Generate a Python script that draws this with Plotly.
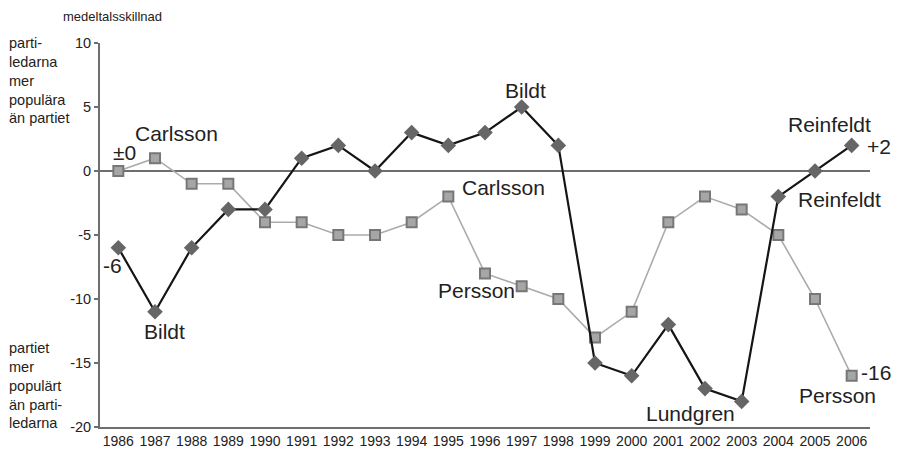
import plotly.graph_objects as go

years = list(range(1986, 2007))
# moderata partiledare (Bildt, Lundgren, Reinfeldt)
m_values = [-6, -11, -6, -3, -3, 1, 2, 0, 3, 2, 3, 5, 2, -15, -16, -12, -17, -18, -2, 0, 2]
# socialdemokratiska partiledare (Carlsson, Persson)
s_values = [0, 1, -1, -1, -4, -4, -5, -5, -4, -2, -8, -9, -10, -13, -11, -4, -2, -3, -5, -10, -16]
y_ticks = [-20, -15, -10, -5, 0, 5, 10]

FONT = "Liberation Sans, Arial, sans-serif"

fig = go.Figure()

fig.add_trace(go.Scatter(
    x=years, y=s_values, mode="lines+markers",
    line=dict(color="#ababab", width=1.6),
    marker=dict(symbol="square", size=10, color="#a6a6a6", line=dict(color="#777777", width=2)),
    showlegend=False,
))
fig.add_trace(go.Scatter(
    x=years, y=m_values, mode="lines+markers",
    line=dict(color="#151515", width=2.2),
    marker=dict(symbol="diamond", size=12, color="#666666", line=dict(width=0)),
    showlegend=False,
))

# (text, serie, index, xshift, yshift)
labels = [
    ("±0", s_values, 0, 6, 19),
    ("Carlsson", s_values, 1, 21, 25),
    ("-6", m_values, 0, -6, -18),
    ("Bildt", m_values, 1, 9, -20),
    ("Bildt", m_values, 11, 4, 17),
    ("Carlsson", s_values, 9, 55, 9),
    ("Persson", s_values, 10, -9, -17),
    ("Reinfeldt", m_values, 20, -22, 21),
    ("+2", m_values, 20, 27, -1),
    ("Reinfeldt", m_values, 19, 24, -28),
    ("Lundgren", m_values, 17, -51, -12),
    ("-16", s_values, 20, 24, 3),
    ("Persson", s_values, 20, -14, -20),
]
for text, serie, i, dx, dy in labels:
    fig.add_annotation(
        x=years[i], y=serie[i], text=text, showarrow=False,
        xshift=dx, yshift=dy, font=dict(family=FONT, size=21, color="#222"),
    )

fig.add_annotation(
    xref="paper", yref="paper", x=0.016, y=1.045, xanchor="center", yanchor="bottom",
    text="medeltalsskillnad", showarrow=False, font=dict(family=FONT, size=13, color="#222"),
)
fig.add_annotation(
    xref="paper", yref="paper", x=-0.121, y=1.025, xanchor="left", yanchor="top", align="left",
    text="parti-<br>ledarna<br>mer<br>populära<br>än partiet", showarrow=False,
    font=dict(family=FONT, size=14.5, color="#222"),
)
fig.add_annotation(
    xref="paper", yref="paper", x=-0.121, y=-0.015, xanchor="left", yanchor="bottom", align="left",
    text="partiet<br>mer<br>populärt<br>än parti-<br>ledarna", showarrow=False,
    font=dict(family=FONT, size=14.5, color="#222"),
)

fig.update_xaxes(
    range=[1985.5, 2006.5], tickvals=years, tickangle=0, showgrid=False, zeroline=False,
    showline=True, linecolor="#6e6e6e", linewidth=2, ticks="",
    tickfont=dict(family=FONT, size=14, color="#222"),
)
fig.update_yaxes(
    range=[-20, 10], tickvals=y_ticks, ticktext=[str(v) for v in y_ticks], showgrid=False,
    zeroline=True, zerolinecolor="#6e6e6e", zerolinewidth=2,
    showline=True, linecolor="#6e6e6e", linewidth=2, ticks="outside", ticklen=4,
    tickcolor="#6e6e6e", tickwidth=2,
    tickfont=dict(family=FONT, size=14.5, color="#222"),
)
# the page body has an 8px margin, so the margins are offset by it
fig.update_layout(
    width=899, height=453,
    plot_bgcolor="white", paper_bgcolor="white",
    margin=dict(l=92, r=37, t=35, b=32),
)

fig.write_html("out.html")
